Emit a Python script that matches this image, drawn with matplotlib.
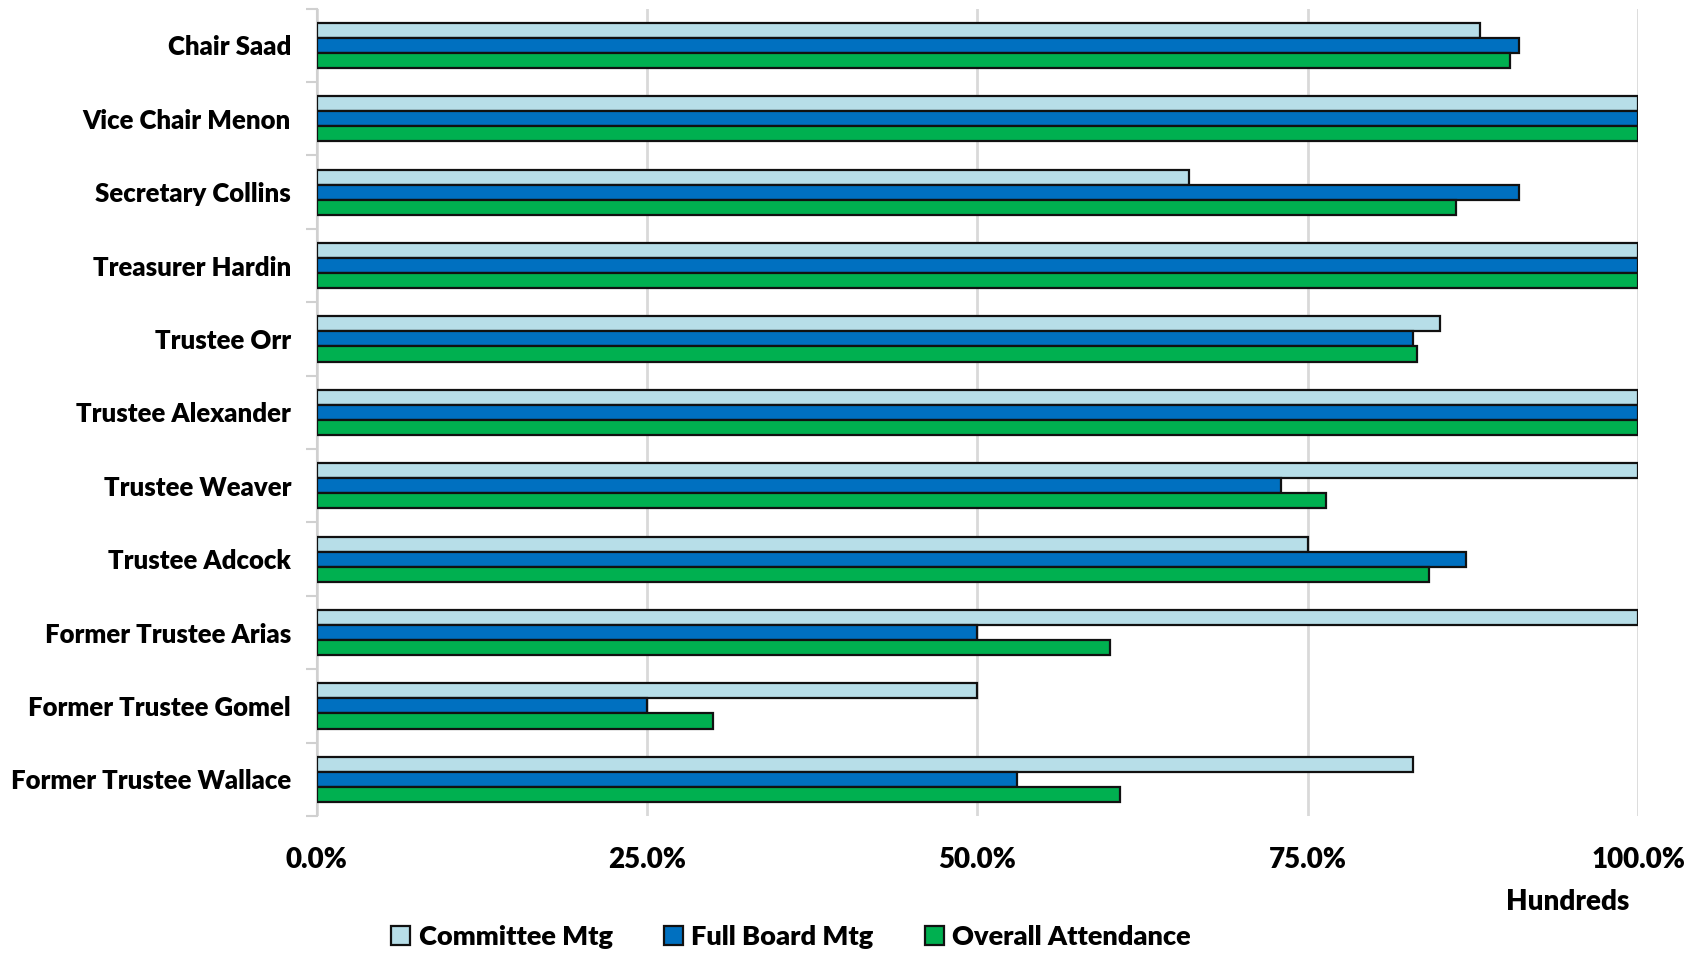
import matplotlib
matplotlib.use("Agg")
import matplotlib.pyplot as plt
import numpy as np
from matplotlib.ticker import FixedLocator, FuncFormatter

categories = ["Chair Saad", "Vice Chair Menon", "Secretary Collins", "Treasurer Hardin",
              "Trustee Orr", "Trustee Alexander", "Trustee Weaver", "Trustee Adcock",
              "Former Trustee Arias", "Former Trustee Gomel", "Former Trustee Wallace"]
committee = [88.0, 100, 66.0, 100, 85.0, 100, 100, 75.0, 100, 50.0, 83.0]
full_board = [91.0, 100, 91.0, 100, 83.0, 100, 73.0, 87.0, 50.0, 25.0, 53.0]
overall = [90.3, 100, 86.2, 100, 83.3, 100, 76.4, 84.2, 60.0, 30.0, 60.8]
series_names = ["Committee Mtg", "Full Board Mtg", "Overall Attendance"]
xticks = [0, 25, 50, 75, 100]

colors = ["#B7DEE8", "#0070C0", "#00B050"]

plt.rcParams['font.family'] = ['Lato', 'DejaVu Sans']
plt.rcParams['font.weight'] = 'heavy'

fig = plt.figure(figsize=(17.01, 9.55), dpi=100)
ax = fig.add_axes([0.1862, 0.1455, 0.963 - 0.1862, 0.9909 - 0.1455])

n = len(categories)
y = np.arange(n)
h = 0.205
for i, (vals, c, name) in enumerate(zip([committee, full_board, overall], colors, series_names)):
    ax.barh(y + (i - 1) * h, vals, height=h, color=c, edgecolor="#111111",
            linewidth=1.6, label=name, zorder=3)

ax.set_xlim(0, 100)
ax.set_ylim(n - 0.5, -0.5)
ax.set_xticks(xticks)
ax.xaxis.set_major_formatter(FuncFormatter(lambda v, p: f"{v:.1f}%"))
ax.set_yticks(y)
ax.set_yticklabels(categories)
ax.yaxis.set_minor_locator(FixedLocator(np.arange(-0.5, n, 1.0)))
ax.tick_params(axis='y', which='major', length=0, pad=18.5, labelsize=18.5)
ax.tick_params(axis='y', which='minor', length=8, width=1.5, color="#d0d0d0", direction='out')
ax.tick_params(axis='x', which='major', length=0, pad=22, labelsize=20)
for t in ax.get_xticklabels() + ax.get_yticklabels():
    t.set_fontweight('heavy')

ax.grid(axis='x', color="#d9d9d9", linewidth=2, zorder=0)
for s in ["top", "right", "bottom"]:
    ax.spines[s].set_visible(False)
ax.spines["left"].set_color("#d0d0d0")
ax.spines["left"].set_linewidth(1.5)

fig.text(1568 / 1701, 1 - 902 / 955, "Hundreds", ha="center", va="center",
         fontsize=20, fontweight="heavy")

leg = fig.legend(loc="center", bbox_to_anchor=(791 / 1701, 1 - 937 / 955), ncol=3,
                 frameon=False, fontsize=19.5, handlelength=0.7, handleheight=0.7,
                 handletextpad=0.3, columnspacing=1.9)
for t in leg.get_texts():
    t.set_fontweight('heavy')

fig.savefig("out.png", dpi=100)
